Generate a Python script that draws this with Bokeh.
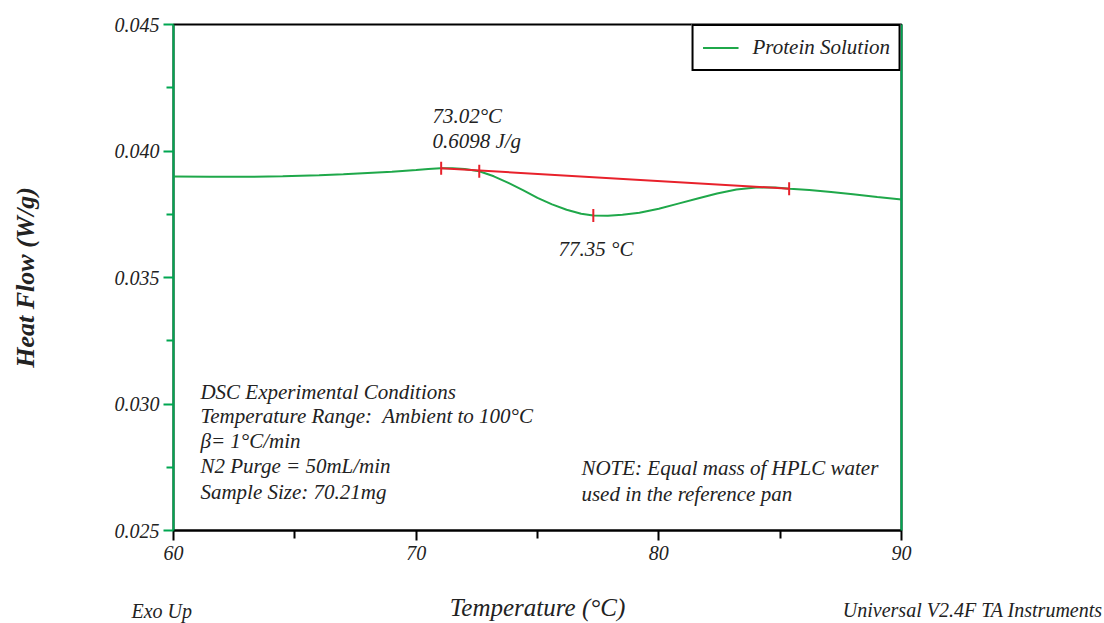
from bokeh.plotting import figure
from bokeh.models import (LinearAxis, FixedTicker, PrintfTickFormatter, Label, Legend, LegendItem, Range1d)
from bokeh.embed import file_html
from bokeh.resources import INLINE
import numpy as np

# --- data ---
temp = [60, 61.5, 63, 64.5, 66, 67, 68, 69, 70, 70.5, 71.0, 71.5, 72.0, 72.6, 73.2, 73.8, 74.4, 75.0, 75.6,
        76.2, 76.8, 77.3, 77.9, 78.5, 79.2, 80.0, 80.8, 81.6, 82.4, 83.2, 84.0, 84.8, 85.4, 86.2, 87.1, 88.0, 89.0, 90.0]
heat = [0.03899, 0.03898, 0.03898, 0.03900, 0.03904, 0.03908, 0.03913, 0.03918, 0.03925, 0.03929, 0.03932, 0.03932,
        0.03929, 0.03920, 0.03900, 0.03874, 0.03845, 0.03815, 0.03789, 0.03768, 0.03752, 0.03745, 0.03744, 0.03748,
        0.03756, 0.03772, 0.03792, 0.03812, 0.03832, 0.03848, 0.03856, 0.03856, 0.03851, 0.03846, 0.03838, 0.03829,
        0.03818, 0.03808]
base_x = [71.03, 85.37]
base_y = [0.03932, 0.03851]
mark_x = [71.03, 72.6, 77.3, 85.37]
mark_y = [0.03932, 0.03920, 0.03745, 0.03851]
x_ticks = [60, 70, 80, 90]
x_minor = [65, 75, 85]
y_ticks = [0.025, 0.030, 0.035, 0.040, 0.045]
y_minor = [0.0275, 0.0325, 0.0375, 0.0425]
series_name = "Protein Solution"

GREEN_AX = "#00a651"
GREEN = "#1fa84a"
RED = "#e8212b"
FONT = "Liberation Serif"
TXT = "#222222"

p = figure(frame_width=728, frame_height=506, output_backend="svg", toolbar_location=None,
           x_range=Range1d(60, 90), y_range=Range1d(0.025, 0.045),
           x_axis_location=None, y_axis_location=None,
           min_border_left=173, min_border_top=24, min_border_right=203, min_border_bottom=93)
p.grid.visible = False
p.outline_line_color = "black"
p.outline_line_width = 2
p.background_fill_color = "white"
p.border_fill_color = "white"

# bottom axis
xa = LinearAxis(ticker=FixedTicker(ticks=x_ticks, minor_ticks=x_minor))
xa.axis_line_color = "black"
xa.axis_line_width = 2
xa.major_tick_line_color = "black"
xa.major_tick_line_width = 2
xa.minor_tick_line_color = "black"
xa.minor_tick_line_width = 2
xa.major_tick_out = 10
xa.major_tick_in = 0
xa.minor_tick_out = 8
xa.minor_tick_in = 0
xa.major_label_text_font = FONT
xa.major_label_text_font_style = "italic"
xa.major_label_text_font_size = "20px"
xa.major_label_text_color = TXT
xa.major_label_standoff = 5
p.add_layout(xa, "below")

# left axis
ya = LinearAxis(ticker=FixedTicker(ticks=y_ticks, minor_ticks=y_minor),
                formatter=PrintfTickFormatter(format="%.3f"))
ya.axis_line_color = GREEN_AX
ya.axis_line_width = 2
ya.major_tick_line_color = GREEN_AX
ya.major_tick_line_width = 2
ya.minor_tick_line_color = GREEN_AX
ya.minor_tick_line_width = 2
ya.major_tick_out = 10
ya.major_tick_in = 0
ya.minor_tick_out = 7
ya.minor_tick_in = 0
ya.major_label_text_font = FONT
ya.major_label_text_font_style = "italic"
ya.major_label_text_font_size = "20px"
ya.major_label_text_color = TXT
ya.major_label_standoff = 4
ya.axis_label = "Heat Flow (W/g)"
ya.axis_label_text_font = FONT
ya.axis_label_text_font_style = "bold italic"
ya.axis_label_text_font_size = "26px"
ya.axis_label_text_color = TXT
ya.axis_label_standoff = 72
p.add_layout(ya, "left")

# right axis: green line only
ra = LinearAxis(ticker=FixedTicker(ticks=[]))
ra.axis_line_color = GREEN_AX
ra.axis_line_width = 2
ra.major_tick_line_color = None
ra.minor_tick_line_color = None
ra.major_label_text_font_size = "0px"
p.add_layout(ra, "right")

# curve
r = p.line(temp, heat, line_color=GREEN, line_width=2)
p.line(base_x, base_y, line_color=RED, line_width=2)
p.scatter(mark_x, mark_y, marker="dash", angle=np.pi / 2, size=13, line_color=RED, line_width=2)

# legend
leg = Legend(items=[LegendItem(label=series_name, renderers=[r])], location="top_right")
leg.margin = 0
leg.border_line_color = "black"
leg.border_line_alpha = 1.0
leg.border_line_width = 2
leg.background_fill_alpha = 1.0
leg.label_text_font = FONT
leg.label_text_font_style = "italic"
leg.label_text_font_size = "21px"
leg.label_text_color = TXT
leg.glyph_width = 36
leg.label_standoff = 14
leg.padding = 9
leg.label_height = 21
leg.glyph_height = 21
p.add_layout(leg)

def add_text(x, y, s, size="21px", align="left", place="center"):
    lab = Label(x=x, y=y, text=s, text_font=FONT, text_font_style="italic",
                text_font_size=size, text_color=TXT, text_align=align,
                text_baseline="middle")
    p.add_layout(lab, place)

add_text(70.67, 0.041364, "73.02°C")
add_text(70.67, 0.040415, "0.6098 J/g")
add_text(75.87, 0.036146, "77.35 °C")

cond = ["DSC Experimental Conditions", "Temperature Range:\u00a0 Ambient to 100°C", "β= 1°C/min",
        "N2 Purge = 50mL/min", "Sample Size: 70.21mg"]
cond_y = [0.030494, 0.029506, 0.028530, 0.027530, 0.026502]
for s, yy in zip(cond, cond_y):
    add_text(61.11, yy, s)

note = ["NOTE: Equal mass of HPLC water", "used in the reference pan"]
note_y = [0.02749, 0.026462]
for s, yy in zip(note, note_y):
    add_text(76.81, yy, s)

# texts outside the frame, kept in side panels so they are not clipped
add_text(75.0, 0.02195, "Temperature (°C)", size="25px", align="center", place="below")
add_text(58.27, 0.02180, "Exo Up", size="20px", place="below")
add_text(98.28, 0.02184, "Universal V2.4F TA Instruments", size="20px", align="right", place="above")

open("out.html", "w").write(file_html(p, INLINE))
